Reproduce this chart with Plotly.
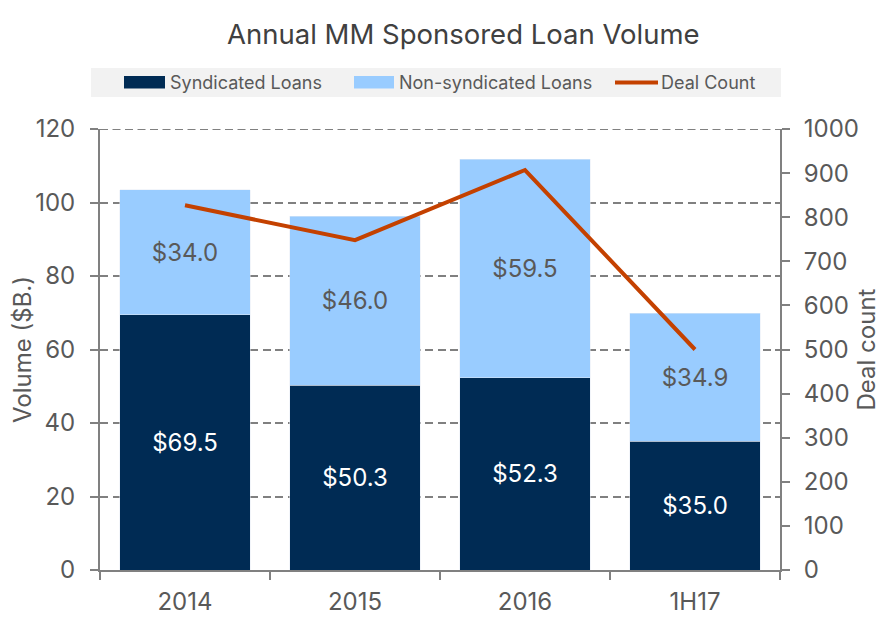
import plotly.graph_objects as go

categories = ["2014", "2015", "2016", "1H17"]
syndicated = [69.5, 50.3, 52.3, 35.0]
non_syndicated = [34.0, 46.0, 59.5, 34.9]
deal_count = [827, 748, 907, 500]
series_names = ["Syndicated Loans", "Non-syndicated Loans", "Deal Count"]
title_text = "Annual MM Sponsored Loan Volume"
y_range = [0, 120]
y2_range = [0, 1000]

C_SYN = "#002B54"
C_NON = "#99CCFF"
C_LINE = "#C44100"
C_TXT = "#595959"
C_AX = "#808080"
FONT = "Inter"
GRID_DASH = "8px,4.5px"

O = 8  # page body margin offset
W, H = 889, 626
L, R, T, B = 100, 780, 129, 570


def px(x):
    return (x - L) / (R - L)


def py(y):
    return (B - y) / (B - T)


fig = go.Figure()
fig.add_trace(go.Bar(
    x=categories, y=syndicated, name=series_names[0], marker_color=C_SYN,
    text=[f"${v:.1f}" for v in syndicated], textposition="inside",
    insidetextanchor="middle", textfont=dict(color="white", size=24, family=FONT),
    showlegend=False, hoverinfo="skip"))
fig.add_trace(go.Bar(
    x=categories, y=non_syndicated, name=series_names[1], marker_color=C_NON,
    text=[f"${v:.1f}" for v in non_syndicated], textposition="inside",
    insidetextanchor="middle", textfont=dict(color=C_TXT, size=24, family=FONT),
    showlegend=False, hoverinfo="skip"))
fig.add_trace(go.Scatter(
    x=categories, y=deal_count, name=series_names[2], yaxis="y2", mode="lines",
    line=dict(color=C_LINE, width=4), showlegend=False, hoverinfo="skip"))

shapes = [
    # top gridline at the maximum of the volume axis
    dict(type="line", xref="paper", yref="y", x0=0, x1=1, y0=y_range[1], y1=y_range[1],
         line=dict(color=C_AX, width=2, dash=GRID_DASH), layer="below"),
    # manual legend
    dict(type="rect", xref="paper", yref="paper", x0=px(91), x1=px(781), y0=py(97), y1=py(68),
         fillcolor="#F2F2F2", line=dict(width=0), layer="below"),
    dict(type="rect", xref="paper", yref="paper", x0=px(124), x1=px(165), y0=py(88.5), y1=py(76),
         fillcolor=C_SYN, line=dict(width=0)),
    dict(type="rect", xref="paper", yref="paper", x0=px(354), x1=px(394), y0=py(88.5), y1=py(76),
         fillcolor=C_NON, line=dict(width=0)),
    dict(type="line", xref="paper", yref="paper", x0=px(615), x1=px(658), y0=py(82.5), y1=py(82.5),
         line=dict(color=C_LINE, width=4)),
]
annotations = [
    dict(text=series_names[0], x=px(168), y=py(82.5), xref="paper", yref="paper",
         xanchor="left", yanchor="middle", showarrow=False, font=dict(size=18, color=C_TXT, family=FONT)),
    dict(text=series_names[1], x=px(397), y=py(82.5), xref="paper", yref="paper",
         xanchor="left", yanchor="middle", showarrow=False, font=dict(size=18, color=C_TXT, family=FONT)),
    dict(text=series_names[2], x=px(659), y=py(82.5), xref="paper", yref="paper",
         xanchor="left", yanchor="middle", showarrow=False, font=dict(size=18, color=C_TXT, family=FONT)),
    dict(text=title_text, x=px(463), y=py(34), xref="paper", yref="paper",
         xanchor="center", yanchor="middle", showarrow=False, font=dict(size=27.5, color="#404040", family=FONT)),
]

fig.update_layout(
    width=W - O, height=H - O,
    margin=dict(l=L - O, r=W - R, t=T - O, b=H - B, autoexpand=False),
    barmode="stack", bargap=0.235,
    plot_bgcolor="white", paper_bgcolor="white",
    font=dict(family=FONT, color=C_TXT, size=24),
    shapes=shapes, annotations=annotations,
    xaxis=dict(
        showline=True, linecolor=C_AX, linewidth=2, ticks="outside", ticklen=8,
        tickwidth=2, tickcolor=C_AX, tickson="boundaries", showgrid=False,
        tickfont=dict(size=24, color=C_TXT), ticklabelstandoff=9),
    yaxis=dict(
        range=y_range, dtick=20, showline=True, linecolor=C_AX, linewidth=2,
        ticks="outside", ticklen=8, tickwidth=2, tickcolor=C_AX,
        showgrid=True, gridcolor=C_AX, gridwidth=2, griddash=GRID_DASH, zeroline=False,
        tickfont=dict(size=24, color=C_TXT), ticklabelstandoff=10,
        title=dict(text="Volume ($B.)", font=dict(size=24, color=C_TXT), standoff=2)),
    yaxis2=dict(
        range=y2_range, dtick=100, overlaying="y", side="right", showline=True,
        linecolor=C_AX, linewidth=2, ticks="outside", ticklen=8, tickwidth=2,
        tickcolor=C_AX, showgrid=False, zeroline=False,
        tickfont=dict(size=24, color=C_TXT), ticklabelstandoff=9,
        title=dict(text="Deal count", font=dict(size=24, color=C_TXT), standoff=0)),
)

fig.write_html("out.html")
